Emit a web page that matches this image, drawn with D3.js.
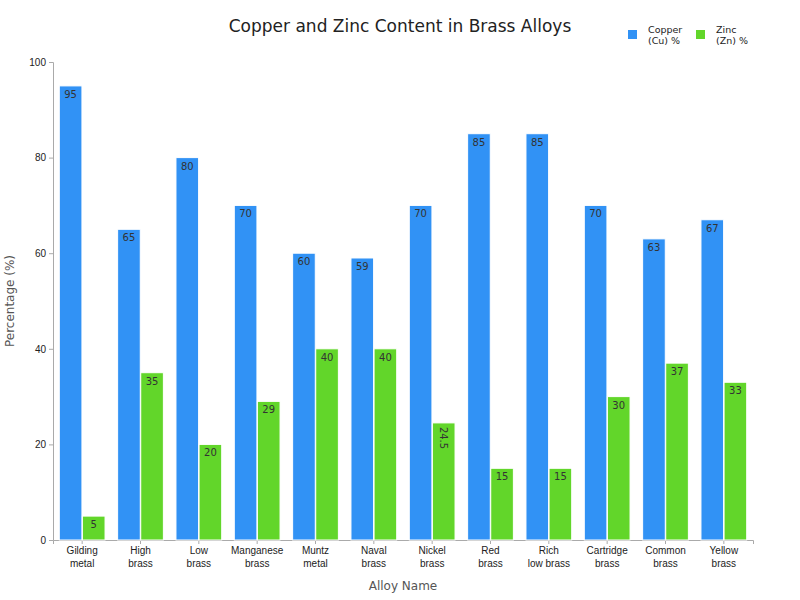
<!DOCTYPE html>
<html><head><meta charset="utf-8">
<script src="https://cdn.jsdelivr.net/npm/d3@7"></script>
<style>body{margin:0;background:#fff;font-family:"DejaVu Sans",sans-serif;}</style>
</head><body><svg id="c" width="800" height="600"></svg>
<script>
const categories = ["Gilding\nmetal","High\nbrass","Low\nbrass","Manganese\nbrass","Muntz\nmetal","Naval\nbrass","Nickel\nbrass","Red\nbrass","Rich\nlow brass","Cartridge\nbrass","Common\nbrass","Yellow\nbrass"];
const copper = [95,65,80,70,60,59,70,85,85,70,63,67];
const zinc = [5,35,20,29,40,40,24.5,15,15,30,37,33];
const yTicks = [0,20,40,60,80,100];
const seriesNames = ["Copper\n(Cu) %","Zinc\n(Zn) %"];
const colors = ["#3192F5","#62D62A"];

const svg = d3.select("#c");
const m = {l:53, r:753, t:62, b:540};
const x = d3.scaleBand().domain(categories).range([m.l, m.r]).paddingInner(0.2).paddingOuter(0.1);
const xs = d3.scaleBand().domain([0,1]).range([0, x.bandwidth()]).padding(0.02);
const y = d3.scaleLinear().domain([0,100]).range([m.b, m.t]);

const ya = svg.append("g").attr("transform",`translate(${m.l},0)`).call(d3.axisLeft(y).tickValues(yTicks).tickSize(4));
ya.selectAll("text").attr("font-size",10).attr("fill","#222");
ya.selectAll("line,path").attr("stroke","#aaa");
const xa = svg.append("g").attr("transform",`translate(0,${m.b})`).call(d3.axisBottom(x).tickSize(4));
xa.selectAll("line,path").attr("stroke","#aaa");
xa.selectAll("text").each(function(d){
  const t=d3.select(this).text(null).attr("font-size",10).attr("fill","#222");
  d.split("\n").forEach((s,i)=>t.append("tspan").attr("x",0).attr("dy",i?"1.25em":"0.71em").text(s));
});

[copper,zinc].forEach((vals,si)=>{
  const g=svg.append("g");
  categories.forEach((c,i)=>{
    const v=vals[i], bx=x(c)+xs(si), bw=xs.bandwidth();
    g.append("rect").attr("x",bx).attr("y",y(v)).attr("width",bw).attr("height",y(0)-y(v))
      .attr("fill",colors[si]).attr("stroke","#fff").attr("stroke-width",1);
    const lbl=String(v);
    if(lbl.includes(".")){
      g.append("text").attr("transform",`translate(${bx+bw/2},${y(v)+4}) rotate(90)`)
        .attr("dy","0.35em").attr("font-size",10).attr("fill","#333").text(lbl);
    } else {
      g.append("text").attr("x",bx+bw/2).attr("y",y(v)+12).attr("text-anchor","middle")
        .attr("font-size",10).attr("fill","#333").text(lbl);
    }
  });
});

svg.append("text").attr("x",400).attr("y",32).attr("text-anchor","middle").attr("font-size",17).attr("fill","#222").text("Copper and Zinc Content in Brass Alloys");
svg.append("text").attr("transform","translate(14,301) rotate(-90)").attr("text-anchor","middle").attr("font-size",12).attr("fill","#555").text("Percentage (%)");
svg.append("text").attr("x",403).attr("y",590).attr("text-anchor","middle").attr("font-size",12).attr("fill","#555").text("Alloy Name");

const lx=[628,696];
seriesNames.forEach((n,i)=>{
  svg.append("rect").attr("x",lx[i]).attr("y",30).attr("width",9).attr("height",9).attr("fill",colors[i]);
  const t=svg.append("text").attr("x",lx[i]+20).attr("y",33).attr("font-size",9.5).attr("fill","#222");
  n.split("\n").forEach((s,k)=>t.append("tspan").attr("x",lx[i]+20).attr("dy",k?"1.2em":"0").text(s));
});
</script></body></html>
